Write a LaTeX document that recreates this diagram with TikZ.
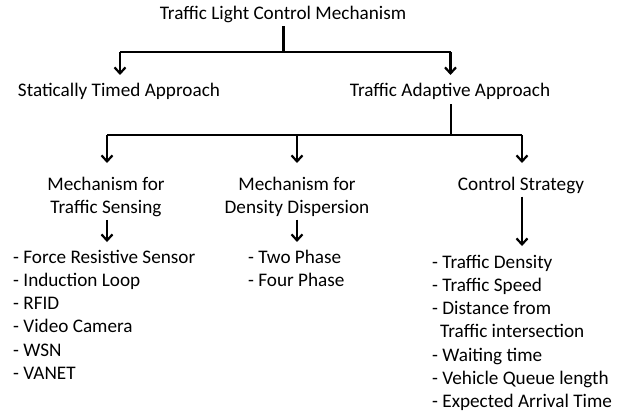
\documentclass[tikz,border=0pt]{standalone}
\usepackage{fontspec}
\setmainfont{Carlito}
\usetikzlibrary{arrows.meta}
\tikzset{
  txt/.style={font=\fontsize{19.2}{23.3}\selectfont, inner sep=0pt},
  head/.style={txt, anchor=base, inner ysep=3pt},
  listbox/.style={txt, anchor=base west, align=left, inner ysep=7.5pt},
  wire/.style={line width=2.2pt},
  arr/.style={wire, -{Straight Barb[length=6pt,width=11pt]}}
}
\begin{document}
\begin{tikzpicture}[x=1pt,y=-1pt]
\useasboundingbox (0,0) rectangle (622,412);

% headings (multi-line nodes are placed by the baseline of their last line)
\node[head] (title) at (283,20) {Traffic Light Control Mechanism};
\node[head] (stat)  at (119,97) {Statically Timed Approach};
\node[head, inner ysep=4pt] (adapt) at (450,97) {Traffic Adaptive Approach};
\node[head, align=center] (sense) at (106,213.3) {Mechanism for\\Traffic Sensing};
\node[head, align=center] (disp)  at (297,213.3) {Mechanism for\\Density Dispersion};
\node[head] (ctrl) at (521,190) {Control Strategy};

% item lists
\node[listbox] (list1) at (13,379.5) {- Force Resistive Sensor\\- Induction Loop\\- RFID\\- Video Camera\\- WSN\\- VANET};
\node[listbox] (list2) at (248,286.3) {- Two Phase\\- Four Phase};
\node[listbox, inner ysep=8.5pt] (list3) at (432,407.8) {- Traffic Density\\- Traffic Speed\\- Distance from\\\hspace*{8pt}Traffic intersection\\- Waiting time\\- Vehicle Queue length\\- Expected Arrival Time};

% first level branching
\coordinate (j0) at (283.5,52);
\coordinate (jS) at (120,52);
\coordinate (jA) at (450.5,52);
\coordinate (eS) at (120,75);
\coordinate (eA) at (450.5,75);
\draw[wire] (title.south -| j0) -- (j0);
\draw[wire] (jS) -- (jA);
\draw[arr] (jS) -- (eS);
\draw[arr] (jA) -- (eA);

% second level branching
\coordinate (k0) at (451,135);
\coordinate (kT) at (107,135);
\coordinate (kD) at (297,135);
\coordinate (kC) at (522,135);
\coordinate (fT) at (107,163);
\coordinate (fD) at (297,163);
\coordinate (fC) at (522,163);
\draw[wire] (adapt.south -| k0) -- (k0);
\draw[wire] (kT) -- (kC);
\draw[arr] (kT) -- (fT);
\draw[arr] (kD) -- (fD);
\draw[arr] (kC) -- (fC);

% down to the item lists
\draw[arr] (sense.south -| fT) -- (fT |- list1.north);
\draw[arr] (disp.south -| fD) -- (fD |- list2.north);
\draw[arr] (ctrl.south -| fC) -- (fC |- list3.north);
\end{tikzpicture}
\end{document}
